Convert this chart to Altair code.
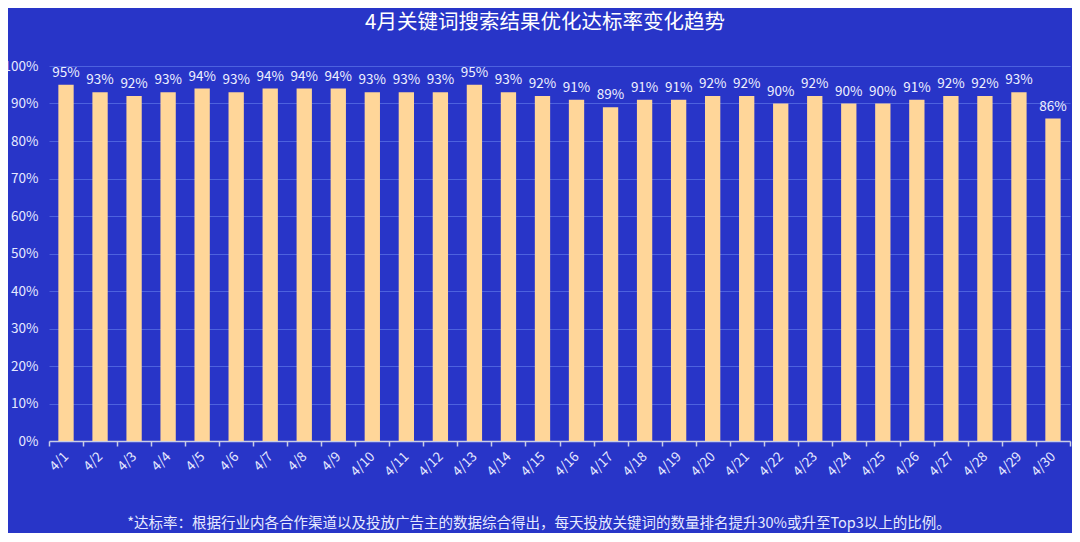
import altair as alt
import pandas as pd

dates = [f"4/{i}" for i in range(1, 31)]
rates = [95, 93, 92, 93, 94, 93, 94, 94, 94, 93, 93, 93, 95, 93, 92,
         91, 89, 91, 91, 92, 92, 90, 92, 90, 90, 91, 92, 92, 93, 86]
y_ticks = [0, 10, 20, 30, 40, 50, 60, 70, 80, 90, 100]
title_text = "4月关键词搜索结果优化达标率变化趋势"
note_text = "*达标率：根据行业内各合作渠道以及投放广告主的数据综合得出，每天投放关键词的数量排名提升30%或升至Top3以上的比例。"

df = pd.DataFrame({"date": dates, "rate": rates,
                   "label": [f"{r}%" for r in rates]})

FONT = "Noto Sans CJK SC"
BG = "#2835C8"
W, H = 1021, 375

x_enc = alt.X("date:N", sort=dates, title=None,
              scale=alt.Scale(paddingInner=0, paddingOuter=0),
              axis=alt.Axis(labelAngle=-45, labelAlign="right", labelBaseline="middle",
                            tickBand="extent", labelColor="#E6E9FF", labelFontSize=13.5,
                            labelFont=FONT, domainColor="#C9CDE6", tickColor="#C9CDE6",
                            tickSize=5, labelPadding=8, domainWidth=1.5, tickWidth=1.5))
y_enc = alt.Y("rate:Q", title=None,
              scale=alt.Scale(domain=[0, 100]),
              axis=alt.Axis(values=y_ticks, labelExpr="datum.value + '%'",
                            labelOverlap=False,
                            labelColor="#E6E9FF", labelFontSize=13.5, labelFont=FONT,
                            gridColor="#4D62DE", gridWidth=1, domain=False, ticks=False,
                            labelPadding=11))

base = alt.Chart(df).encode(x=x_enc, y=y_enc)
bars = base.mark_bar(color="#FFD699", width=alt.RelativeBandSize(0.45))
labels = base.mark_text(dy=-12, color="#EEF0FF", fontSize=13.5, font=FONT).encode(
    text="label:N")

title = alt.Chart(pd.DataFrame({"t": [title_text]})).mark_text(
    color="white", fontSize=20.5, font=FONT, fontWeight="normal").encode(
    x=alt.value(496), y=alt.value(-43), text="t:N")
note = alt.Chart(pd.DataFrame({"t": [note_text]})).mark_text(
    color="#E6E9FF", fontSize=14.5, font=FONT).encode(
    x=alt.value(490), y=alt.value(458), text="t:N")

chart = alt.layer(bars, labels, title, note).properties(
    width=W, height=H,
    autosize=alt.AutoSizeParams(type="none"),
    padding={"left": 41, "top": 58, "right": 2, "bottom": 92},
).configure(background=BG).configure_view(stroke=None)

chart.save("out.html", embed_options={"renderer": "svg", "actions": False})
